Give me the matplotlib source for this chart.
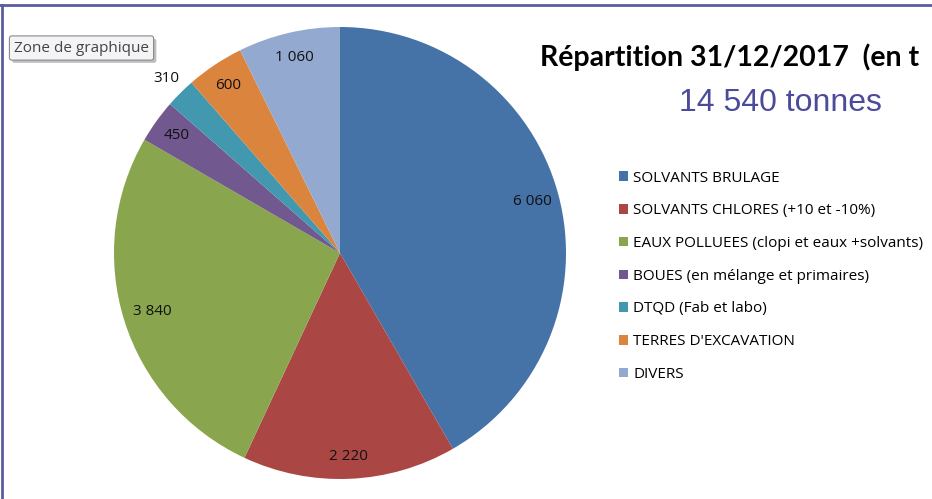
import matplotlib.pyplot as plt
from matplotlib.lines import Line2D
import matplotlib.patheffects as pe
import numpy as np

categories = ['SOLVANTS BRULAGE', 'SOLVANTS CHLORES (+10 et -10%)',
              'EAUX POLLUEES (clopi et eaux +solvants)', 'BOUES (en mélange et primaires)',
              'DTQD (Fab et labo)', "TERRES D'EXCAVATION", 'DIVERS']
tonnes = [6060, 2220, 3840, 450, 310, 600, 1060]
colors = ['#4572A7', '#AA4643', '#89A54E', '#71588F', '#4198AF', '#DB843D', '#93A9CF']
label_dist = [0.88, 0.9, 0.87, 0.89, 1.09, 0.89, 0.89]

W, H = 932, 499
fig = plt.figure(figsize=(W / 100, H / 100), dpi=100)
fig.patch.set_facecolor('white')

# pie centred at (340, 253) px, radius 226 px
cx, cy, r = 340, 253, 226
ax = fig.add_axes([(cx - r) / W, (H - cy - r) / H, 2 * r / W, 2 * r / H])
wedges, _ = ax.pie(tonnes, colors=colors, startangle=90, counterclock=False, radius=1)
ax.set_xlim(-1, 1)
ax.set_ylim(-1, 1)
ax.set_aspect('equal')
ax.axis('off')

for w, v, d in zip(wedges, tonnes, label_dist):
    ang = np.deg2rad((w.theta1 + w.theta2) / 2)
    txt = f'{v:,}'.replace(',', ' ')
    ax.text(d * np.cos(ang), d * np.sin(ang), txt, ha='center', va='center',
            fontsize=11, family='Open Sans', color='#111111', clip_on=False)

# title runs off the right edge of the chart area; only the visible part is drawn
fig.text(540 / W, 1 - 57 / H, 'Répartition 31/12/2017  (en t', fontsize=20.5,
         fontweight='bold', family='Lato', color='black', va='center', ha='left')
fig.text(780 / W, 1 - 103 / H, '14 540 tonnes', fontsize=23, family='Liberation Sans',
         color='#4B4B9B', va='center', ha='center')

leg = fig.legend(wedges, categories, loc='upper left', bbox_to_anchor=(614 / W, 1 - 166 / H),
                 frameon=False, handlelength=0.6, handleheight=0.6, handletextpad=0.35,
                 labelspacing=1.16, borderaxespad=0, borderpad=0.3,
                 prop={'family': 'Open Sans', 'size': 11})

# chart frame (top and left edges visible)
fig.add_artist(Line2D([0, 1], [1 - 5 / H, 1 - 5 / H], transform=fig.transFigure,
                      color='#5B5BA0', lw=2))
fig.add_artist(Line2D([2 / W, 2 / W], [0, 1 - 5 / H], transform=fig.transFigure,
                      color='#5B5BA0', lw=2))

# tooltip box with a soft drop shadow
tip = fig.text(14 / W, 1 - 48 / H, 'Zone de graphique', fontsize=11, family='Open Sans',
               color='#444444', va='center', ha='left',
               bbox=dict(boxstyle='round,pad=0.3,rounding_size=0.15', fc='#F4F4F6',
                         ec='#8A8A8A', lw=0.8))
tip.get_bbox_patch().set_path_effects([pe.SimplePatchShadow(offset=(2, -2), alpha=0.35),
                                       pe.Normal()])

fig.savefig('out.png', dpi=100, facecolor='white')
